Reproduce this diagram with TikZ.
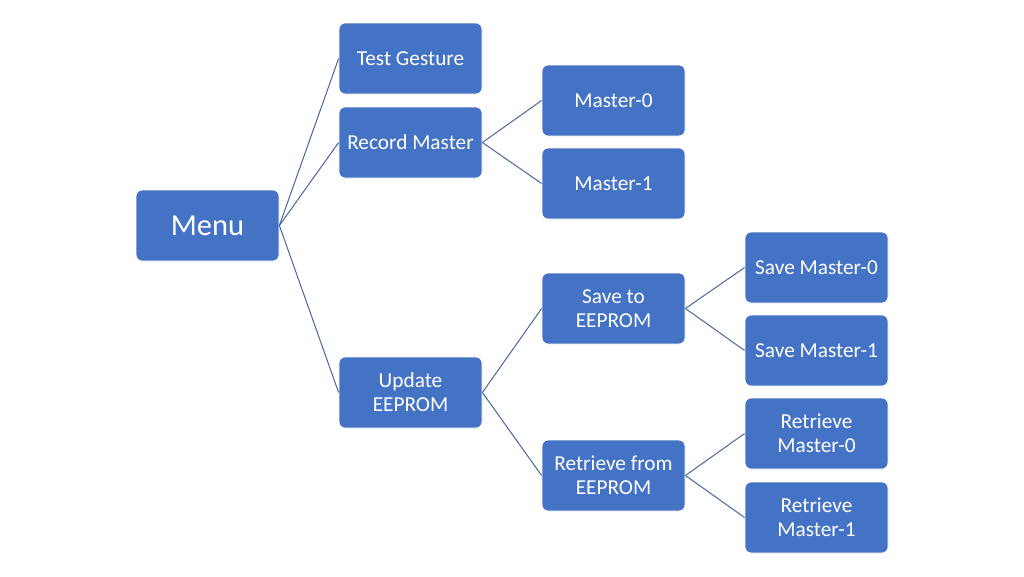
\documentclass[tikz,border=0pt]{standalone}
\usepackage{fontspec}
\setmainfont{Carlito}
\definecolor{boxblue}{HTML}{4472C4}
\definecolor{linkblue}{HTML}{4A6699}
\begin{document}
\begin{tikzpicture}[x = 1pt, y = -1pt,
	box/.style = {rectangle, rounded corners = 6pt, fill = boxblue, draw = white, line width = 0.8pt,
		text = white, minimum width = 143pt, minimum height = 71pt, align = center,
		font = \fontsize{21.3}{24}\selectfont},
	link/.style = {linkblue, line width = 1pt}]
	%	canvas
	\useasboundingbox (0, 0) rectangle (1024, 576);
	
	%	columns
	\def\colA{207.5}
	\def\colB{410.5}
	\def\colC{613.5}
	\def\colD{816.5}
	
	%	boxes
	\node[box, font = \fontsize{30.5}{34}\selectfont] (menu) at (\colA, 225.5) {Menu};
	
	\node[box] (test) at (\colB, 58.5) {Test Gesture};
	\node[box] (record) at (\colB, 142.5) {Record Master};
	\node[box] (update) at (\colB, 392.5) {Update\\EEPROM};
	
	\node[box] (master0) at (\colC, 100.5) {Master-0};
	\node[box] (master1) at (\colC, 183.5) {Master-1};
	\node[box] (save) at (\colC, 308.5) {Save to\\EEPROM};
	\node[box] (retrieve) at (\colC, 475.5) {Retrieve from\\EEPROM};
	
	\node[box] (save0) at (\colD, 267.5) {Save Master-0};
	\node[box] (save1) at (\colD, 350.5) {Save Master-1};
	\node[box] (ret0) at (\colD, 433.5) {Retrieve\\Master-0};
	\node[box] (ret1) at (\colD, 517.5) {Retrieve\\Master-1};
	
	%	links
	\foreach \a/\b in {menu/test, menu/record, menu/update, record/master0, record/master1,
		update/save, update/retrieve, save/save0, save/save1, retrieve/ret0, retrieve/ret1}
		\draw[link] (\a.east) -- (\b.west);
\end{tikzpicture}
\end{document}
